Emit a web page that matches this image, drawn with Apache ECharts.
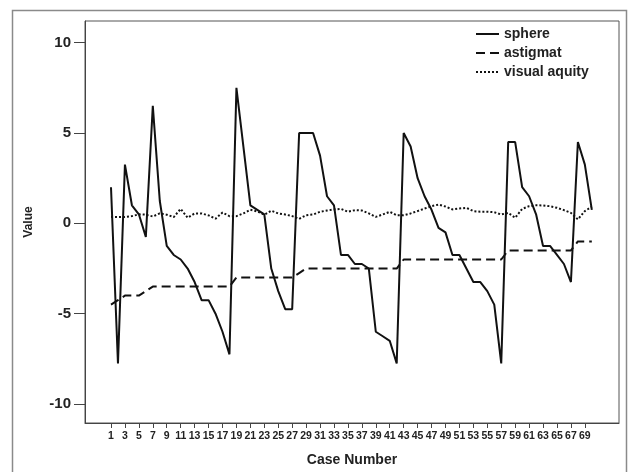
<!DOCTYPE html>
<html>
<head>
<meta charset="utf-8">
<script src="https://cdn.jsdelivr.net/npm/echarts@6/dist/echarts.min.js"></script>
<style>
html,body{margin:0;padding:0;background:#fff;}
#chart{width:629px;height:472px;}
</style>
</head>
<body>
<div id="chart"></div>
<script>
const caseNumbers = Array.from({length: 70}, (_, i) => i + 1);
const xTickLabels = [1,3,5,7,9,11,13,15,17,19,21,23,25,27,29,31,33,35,37,39,41,43,45,47,49,51,53,55,57,59,61,63,65,67,69];
const yTickLabels = [-10,-5,0,5,10];
const seriesNames = ['sphere','astigmat','visual aquity'];

const sphere = [2.0,-7.75,3.25,1.0,0.5,-0.75,6.5,1.25,-1.25,-1.75,
  -2.0,-2.5,-3.25,-4.25,-4.25,-5.0,-6.0,-7.25,7.5,4.25,
  1.0,0.75,0.5,-2.5,-3.75,-4.75,-4.75,5.0,5.0,5.0,
  3.75,1.5,1.0,-1.75,-1.75,-2.25,-2.25,-2.5,-6.0,-6.25,
  -6.5,-7.75,5.0,4.25,2.5,1.5,0.75,-0.25,-0.5,-1.75,
  -1.75,-2.5,-3.25,-3.25,-3.75,-4.5,-7.75,4.5,4.5,2.0,
  1.5,0.5,-1.25,-1.25,-1.75,-2.25,-3.25,4.5,3.25,0.75];

const astigmat = [-4.5,-4.25,-4.0,-4.0,-4.0,-3.75,-3.5,-3.5,-3.5,-3.5,
  -3.5,-3.5,-3.5,-3.5,-3.5,-3.5,-3.5,-3.5,-3.0,-3.0,
  -3.0,-3.0,-3.0,-3.0,-3.0,-3.0,-3.0,-2.75,-2.5,-2.5,
  -2.5,-2.5,-2.5,-2.5,-2.5,-2.5,-2.5,-2.5,-2.5,-2.5,
  -2.5,-2.5,-2.0,-2.0,-2.0,-2.0,-2.0,-2.0,-2.0,-2.0,
  -2.0,-2.0,-2.0,-2.0,-2.0,-2.0,-2.0,-1.5,-1.5,-1.5,
  -1.5,-1.5,-1.5,-1.5,-1.5,-1.5,-1.5,-1.0,-1.0,-1.0];

const visualAquity = [0.36,0.35,0.35,0.4,0.5,0.48,0.38,0.55,0.48,0.35,
  0.8,0.31,0.55,0.55,0.44,0.26,0.6,0.4,0.4,0.55,
  0.75,0.66,0.48,0.7,0.55,0.49,0.4,0.25,0.45,0.49,
  0.64,0.71,0.77,0.8,0.64,0.73,0.71,0.55,0.36,0.49,
  0.64,0.45,0.45,0.55,0.68,0.82,0.95,1.04,0.93,0.77,
  0.82,0.86,0.68,0.64,0.64,0.62,0.49,0.58,0.31,0.8,
  0.95,1.0,0.99,0.95,0.86,0.73,0.58,0.22,0.68,0.92];

const pairs = arr => arr.map((v, i) => [caseNumbers[i], v]);
const font = 'Liberation Sans, Arial, sans-serif';

const chart = echarts.init(document.getElementById('chart'), null, {renderer: 'canvas'});
chart.setOption({
  backgroundColor: '#ffffff',
  animation: false,
  graphic: [{
    type: 'rect', silent: true, z: -1,
    shape: {x: 12.5, y: 10.5, width: 614, height: 470},
    style: {fill: 'none', stroke: '#8a8a8a', lineWidth: 1.5}
  }],
  grid: {
    left: 85, top: 21, right: 10, bottom: 44,
    show: true, borderColor: '#555', borderWidth: 1, backgroundColor: '#fff'
  },
  legend: {
    orient: 'vertical',
    left: 470, top: 22,
    itemWidth: 23, itemHeight: 14, itemGap: 5,
    itemStyle: {opacity: 0},
    textStyle: {fontFamily: font, fontSize: 14, fontWeight: 'bold', color: '#222'},
    data: seriesNames
  },
  xAxis: {
    type: 'value',
    min: -2.73, max: 73.9,
    name: 'Case Number',
    nameLocation: 'middle', nameGap: 30,
    nameTextStyle: {fontFamily: font, fontSize: 14, fontWeight: 'bold', color: '#222'},
    axisLine: {show: true, onZero: false, lineStyle: {color: '#444', width: 1}},
    axisTick: {show: true, length: 5, customValues: xTickLabels, lineStyle: {color: '#444'}},
    axisLabel: {customValues: xTickLabels, fontFamily: font, fontSize: 10.5, fontWeight: 'bold', color: '#222', margin: 8, hideOverlap: false},
    splitLine: {show: false}
  },
  yAxis: {
    type: 'value',
    min: -11.05, max: 11.2,
    name: 'Value',
    nameLocation: 'middle', nameGap: 50, nameRotate: 90,
    nameTextStyle: {fontFamily: font, fontSize: 12, fontWeight: 'bold', color: '#222'},
    axisLine: {show: true, onZero: false, lineStyle: {color: '#444', width: 1}},
    axisTick: {show: true, length: 11, customValues: yTickLabels, lineStyle: {color: '#444'}},
    axisLabel: {customValues: yTickLabels, fontFamily: font, fontSize: 15, fontWeight: 'bold', color: '#222', margin: 14},
    splitLine: {show: false}
  },
  series: [
    {name: seriesNames[0], type: 'line', data: pairs(sphere), symbol: 'none',
     lineStyle: {color: '#111', width: 2, type: 'solid'}, itemStyle: {color: '#111'}},
    {name: seriesNames[1], type: 'line', data: pairs(astigmat), symbol: 'none',
     lineStyle: {color: '#111', width: 2, type: [9, 5]}, itemStyle: {color: '#111'}},
    {name: seriesNames[2], type: 'line', data: pairs(visualAquity), symbol: 'none',
     lineStyle: {color: '#111', width: 2, type: [2, 2]}, itemStyle: {color: '#111'}}
  ]
});
</script>
</body>
</html>
